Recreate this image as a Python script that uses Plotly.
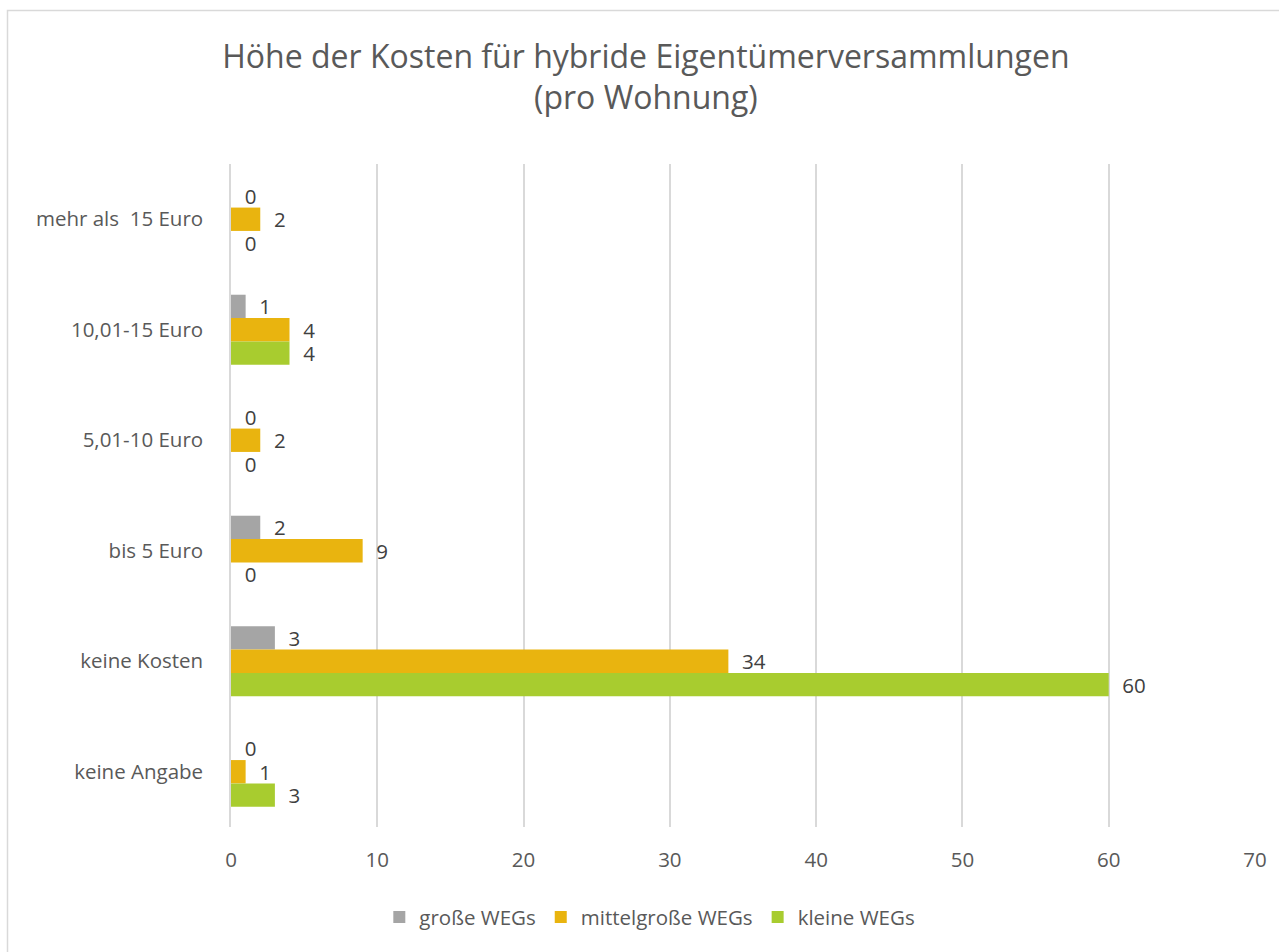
import plotly.graph_objects as go

categories = ["mehr als  15 Euro", "10,01-15 Euro", "5,01-10 Euro", "bis 5 Euro", "keine Kosten", "keine Angabe"]
grosse = [0, 1, 0, 2, 3, 0]
mittelgrosse = [2, 4, 2, 9, 34, 1]
kleine = [0, 4, 0, 0, 60, 3]
series_names = ["große WEGs", "mittelgroße WEGs", "kleine WEGs"]
series_colors = ["#A5A5A5", "#E9B40F", "#A8CC2F"]
x_ticks = [0, 10, 20, 30, 40, 50, 60, 70]

FONT = "Open Sans"
FS = 20.5
pad = "\u00a0\u00a0"

fig = go.Figure()
for name, vals, col in zip(series_names, [grosse, mittelgrosse, kleine], series_colors):
    fig.add_trace(go.Bar(
        y=categories, x=vals, name=name, orientation="h",
        marker=dict(color=col, line=dict(width=0)),
        text=[pad + str(v) for v in vals], textposition="outside",
        constraintext="none",
        textfont=dict(family=FONT, size=FS, color="#404040"),
        cliponaxis=False,
    ))

fig.update_layout(
    barmode="group", bargap=0.366, bargroupgap=0,
    width=1279, height=952,
    paper_bgcolor="white", plot_bgcolor="white",
    margin=dict(l=231, r=24, t=164, b=125, autoexpand=False),
    title=dict(text="Höhe der Kosten für hybride Eigentümerversammlungen<br>(pro Wohnung)",
               x=0.505, xanchor="center", y=0.929, yanchor="top",
               font=dict(family=FONT, size=32, color="#595959")),
    font=dict(family=FONT, size=FS, color="#595959"),
    legend=dict(orientation="h", x=0.409, xanchor="center", y=-0.106, yanchor="top",
                font=dict(family=FONT, size=FS, color="#595959"),
                itemwidth=30, traceorder="normal"),
    xaxis=dict(range=[0, 70], tickvals=x_ticks, showgrid=True, gridcolor="#D9D9D9", gridwidth=1.5,
               zeroline=False, showline=False, ticks="", ticklabelstandoff=18,
               tickfont=dict(family=FONT, size=FS, color="#595959")),
    yaxis=dict(categoryorder="array", categoryarray=categories, autorange="reversed",
               showline=True, linecolor="#D9D9D9", linewidth=1.5, showgrid=False, ticks="",
               ticklabelstandoff=22,
               tickfont=dict(family=FONT, size=FS, color="#595959")),
    shapes=[dict(type="rect", xref="paper", yref="paper",
                 x0=(7.5 - 231) / 1024, x1=(1290 - 231) / 1024,
                 y0=(827 - 970) / 663, y1=(827 - 10.5) / 663,
                 line=dict(color="#D9D9D9", width=1.5), fillcolor="rgba(0,0,0,0)", layer="below")],
)

fig.write_html("out.html", config={"displayModeBar": False},
               post_script="document.body.style.margin='0';document.body.style.overflow='hidden';")
